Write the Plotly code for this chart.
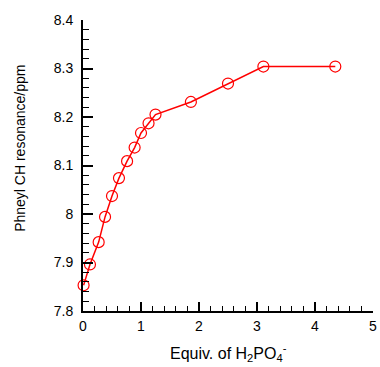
import plotly.graph_objects as go

equiv = [0.01, 0.12, 0.27, 0.38, 0.50, 0.62, 0.76, 0.89, 1.00, 1.13, 1.25, 1.86, 2.50, 3.11, 4.35]
shift = [7.853, 7.896, 7.942, 7.994, 8.037, 8.074, 8.109, 8.137, 8.167, 8.187, 8.205, 8.231, 8.269, 8.304, 8.304]

x_ticks = [0, 1, 2, 3, 4, 5]
y_ticks = [7.8, 7.9, 8.0, 8.1, 8.2, 8.3, 8.4]
y_labels = ["7.8", "7.9", "8", "8.1", "8.2", "8.3", "8.4"]

W, H = 380, 367
L, R, T, B = 83, 3, 20, 56

fig = go.Figure()
fig.add_trace(go.Scatter(
    x=equiv, y=shift, mode="lines+markers",
    line=dict(color="#ff0000", width=1.5),
    marker=dict(symbol="circle-open", size=11, color="#ff0000", line=dict(width=1.2)),
    showlegend=False, cliponaxis=False,
))

font = dict(family="Liberation Sans, Arial, sans-serif", size=14, color="#000")

fig.update_layout(
    width=W, height=H,
    margin=dict(l=L, r=R, t=T, b=B, pad=0),
    paper_bgcolor="white", plot_bgcolor="white",
    font=font,
    xaxis=dict(
        range=[0, 5], tickvals=x_ticks, ticks="inside", ticklen=9, tickwidth=1.5,
        tickcolor="black", showline=True, linecolor="black", linewidth=2,
        showgrid=False, zeroline=False, ticklabelstandoff=1, ticklabeloverflow="allow",
        minor=dict(dtick=0.2, ticks="inside", ticklen=5, tickwidth=1.2, tickcolor="black", showgrid=False),
        tickfont=font,
    ),
    yaxis=dict(
        range=[7.8, 8.4], tickvals=y_ticks, ticktext=y_labels, ticks="inside", ticklen=10, tickwidth=1.5,
        tickcolor="black", showline=True, linecolor="black", linewidth=2,
        showgrid=False, zeroline=False, ticklabelstandoff=5, ticklabeloverflow="allow",
        minor=dict(dtick=0.02, ticks="inside", ticklen=6, tickwidth=1.2, tickcolor="black", showgrid=False),
        tickfont=font,
    ),
    annotations=[
        dict(text="Phneyl CH resonance/ppm", textangle=-90, xref="paper", yref="paper",
             x=-(L - 19) / (W - L - R), y=(H - B - 148) / (H - T - B), xanchor="center", yanchor="middle",
             showarrow=False, font=dict(family="Liberation Sans, Arial, sans-serif", size=14, color="#000")),
        dict(text="Equiv. of H<sub>2</sub>PO<sub>4</sub><sup>-</sup>", xref="paper", yref="paper",
             x=0.5, y=-(353 - (H - B)) / (H - T - B), xanchor="center", yanchor="middle",
             showarrow=False, font=dict(family="Liberation Sans, Arial, sans-serif", size=16, color="#000")),
    ],
)

fig.write_html("out.html")
